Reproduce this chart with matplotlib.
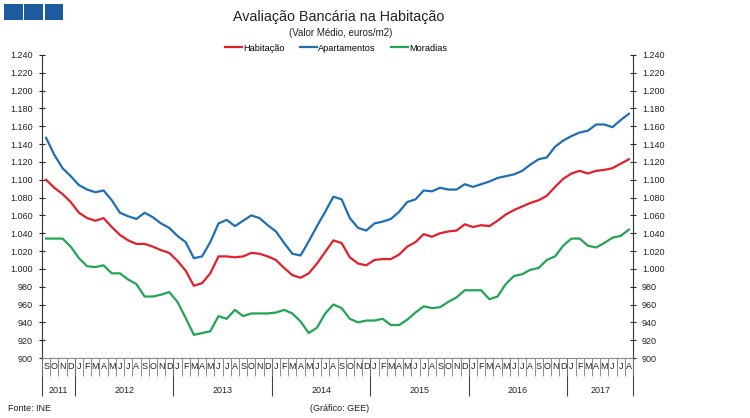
import matplotlib
matplotlib.use("Agg")
import matplotlib.pyplot as plt
from matplotlib.patches import Rectangle
from matplotlib.ticker import FuncFormatter

plt.rcParams['font.family'] = ['Liberation Sans', 'DejaVu Sans']

# monthly values, Sep 2011 .. Aug 2017 (euros/m2)
habitacao = [1100, 1091, 1084, 1075, 1063, 1057, 1054, 1057, 1047, 1038, 1032, 1028,
             1028, 1025, 1021, 1018, 1009, 998, 981, 984, 995, 1014, 1014, 1013,
             1014, 1018, 1017, 1014, 1010, 1001, 993, 990, 995, 1006, 1019, 1032,
             1029, 1013, 1006, 1004, 1010, 1011, 1011, 1016, 1025, 1030, 1039, 1036,
             1040, 1042, 1043, 1050, 1047, 1049, 1048, 1054, 1061, 1066, 1070, 1074,
             1077, 1082, 1092, 1101, 1107, 1110, 1107, 1110, 1111, 1113, 1118, 1123]
apartamentos = [1147, 1128, 1113, 1104, 1094, 1089, 1086, 1088, 1077, 1063, 1059, 1056,
                1063, 1058, 1051, 1046, 1037, 1030, 1012, 1014, 1030, 1051, 1055, 1048,
                1054, 1060, 1057, 1049, 1042, 1029, 1017, 1015, 1031, 1048, 1064, 1081,
                1078, 1057, 1046, 1043, 1051, 1053, 1056, 1064, 1075, 1078, 1088, 1087,
                1091, 1089, 1089, 1095, 1092, 1095, 1098, 1102, 1104, 1106, 1110, 1117,
                1123, 1125, 1137, 1144, 1149, 1153, 1155, 1162, 1162, 1159, 1167, 1174]
moradias = [1034, 1034, 1034, 1025, 1012, 1003, 1002, 1004, 995, 995, 988, 983,
            969, 969, 971, 974, 963, 945, 926, 928, 930, 947, 944, 954,
            947, 950, 950, 950, 951, 954, 950, 941, 928, 934, 950, 960,
            956, 944, 940, 942, 942, 944, 937, 937, 943, 951, 958, 956,
            957, 963, 968, 976, 976, 976, 966, 969, 983, 992, 994, 999,
            1001, 1010, 1014, 1026, 1034, 1034, 1026, 1024, 1029, 1035, 1037, 1044]

month_letters = "SOND" + "JFMAMJJASOND" * 5 + "JFMAMJJA"
years = ["2011", "2012", "2013", "2014", "2015", "2016", "2017"]
months_per_year = [4, 12, 12, 12, 12, 12, 8]

x = list(range(len(habitacao)))

fig = plt.figure(figsize=(7.5, 4.18), dpi=100)
ax = fig.add_axes([0.056, 0.1435, 0.788, 0.725])

ax.plot(x, habitacao, color='#E2202B', lw=1.6, label='Habitação')
ax.plot(x, apartamentos, color='#1F6EB5', lw=1.6, label='Apartamentos')
ax.plot(x, moradias, color='#23A455', lw=1.6, label='Moradias')

ax.set_ylim(900, 1240)
ax.set_xlim(-0.5, len(x) - 0.5)
ax.set_yticks(range(900, 1241, 20))
ax.yaxis.set_major_formatter(FuncFormatter(lambda v, p: f"{int(v):,}".replace(",", ".")))
ax.tick_params(axis='y', direction='inout', length=5, width=0.8, labelsize=6.5,
               colors='#222222', left=True, right=True, labelleft=True, labelright=True, pad=4)

# month separators and letters
ax.set_xticks([i - 0.5 for i in range(len(x) + 1)])
ax.set_xticklabels([])
ax.set_xticks(x, labels=list(month_letters), minor=True)
ax.tick_params(axis='x', which='major', direction='out', length=13, width=0.6, color='#777777')
ax.tick_params(axis='x', which='minor', length=0, labelsize=6.5, pad=3, colors='#222222')

ax.spines['top'].set_visible(False)
ax.spines['bottom'].set_color('#888888')
ax.spines['left'].set_color('#333333')
ax.spines['right'].set_color('#333333')

# year row
bounds = [-0.5]
for n in months_per_year:
    bounds.append(bounds[-1] + n)
centers = [(bounds[k] + bounds[k + 1]) / 2 for k in range(len(years))]
sec = ax.secondary_xaxis('bottom')
sec.set_xticks(bounds)
sec.set_xticklabels([])
sec.set_xticks(centers, labels=years, minor=True)
sec.tick_params(which='major', direction='out', length=27, width=0.8, color='#444444')
sec.tick_params(which='minor', length=0, labelsize=6.5, pad=20, colors='#222222')
sec.spines['bottom'].set_visible(False)

fig.text(0.451, 0.959, "Avaliação Bancária na Habitação", ha='center', va='center',
         fontsize=10.3, color='#222222')
fig.text(0.454, 0.921, "(Valor Médio, euros/m2)", ha='center', va='center',
         fontsize=7, color='#222222')
fig.legend(loc='center', bbox_to_anchor=(0.448, 0.885), ncol=3, frameon=False,
           fontsize=6.6, handlelength=1.9, handletextpad=0.15, columnspacing=1.6)

fig.text(0.011, 0.022, "Fonte: INE", fontsize=6.5, color='#222222', va='center')
fig.text(0.413, 0.022, "(Gráfico: GEE)", fontsize=6.5, color='#222222', va='center')

# logo squares
for x0 in [4, 24.5, 44.5]:
    fig.add_artist(Rectangle((x0 / 750, 1 - 20 / 418), 18.5 / 750, 16 / 418,
                             transform=fig.transFigure, color='#1D5A9E', lw=0))

fig.savefig("out.png", dpi=100)
